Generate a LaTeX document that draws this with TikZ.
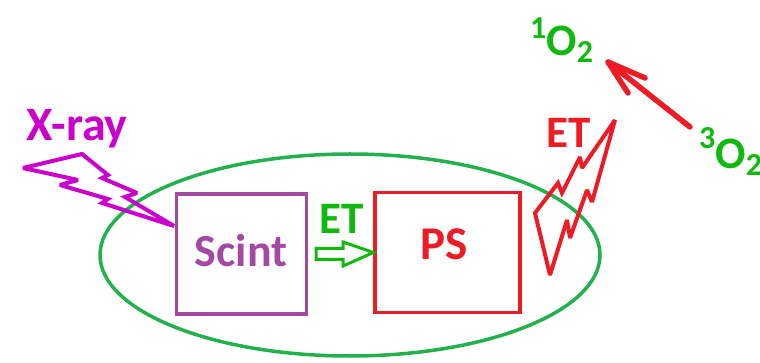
\documentclass[tikz,border=0pt]{standalone}
\usepackage{fontspec}
\setmainfont{Carlito}
\usetikzlibrary{arrows.meta}
\definecolor{xmag}{RGB}{204,0,204}
\definecolor{spurple}{RGB}{163,73,164}
\definecolor{pred}{RGB}{237,28,36}
\definecolor{egreen}{RGB}{34,177,76}
\definecolor{tgreen}{RGB}{16,185,16}
\tikzset{
  lbl/.style={font=\fontsize{45}{45}\selectfont\bfseries, inner sep=0pt, anchor=base},
  boxst/.style={draw, line width=3.2pt, inner sep=0pt},
  bolt/.style={line width=4pt, line join=miter, miter limit=2.5},
}
\newcommand{\smalldigit}[2]{\raisebox{#1}{\fontsize{32}{32}\selectfont #2}}
\begin{document}
\begin{tikzpicture}[x=1pt,y=-1pt]
\useasboundingbox (0,0) rectangle (760,363);
% ellipse
\draw[egreen, line width=3.5pt] (350,255) ellipse [x radius=250, y radius=101];
% boxes
\node[boxst, spurple, minimum width=130pt, minimum height=120pt] (scint) at (241.5,254) {};
\node[lbl, spurple, font=\fontsize{46}{46}\selectfont\bfseries] (scintt) at (241,267) {Scint};
\node[boxst, pred, minimum width=145pt, minimum height=120pt] (ps) at (447.5,252.5) {};
\node[lbl, pred, font=\fontsize{47}{47}\selectfont\bfseries] (pst) at (444,260) {PS};
% ET green + hollow arrow
\node[lbl, tgreen] (et1) at (342,234) {ET};
\coordinate (ga) at (scint.east);
\draw[tgreen, line width=3pt, line join=miter]
  ([xshift=8pt,yshift=-5.5pt]ga) -- ([xshift=35pt,yshift=-5.5pt]ga) -- ([xshift=35pt,yshift=-12pt]ga)
  -- (ps.west) -- ([xshift=35pt,yshift=12pt]ga) -- ([xshift=35pt,yshift=5.5pt]ga)
  -- ([xshift=8pt,yshift=5.5pt]ga) -- cycle;
% X-ray
\node[lbl, xmag, font=\fontsize{48}{48}\selectfont\bfseries] (xray) at (77,141) {X-ray};
\draw[xmag, bolt]
  (23,168) -- (82,154) -- (108,175) -- (102,178) -- (137,193) -- (125,197) -- (174,226)
  -- (102,203) -- (108,199) -- (60,185) -- (78,180) -- cycle;
% red ET lightning
\node[lbl, pred] (et2) at (569,148) {ET};
\draw[pred, bolt]
  (615,120) -- (592,202) -- (587,190) -- (570,238) -- (567,220) -- (550,275)
  -- (535,213) -- (558,183) -- (562,193) -- (580,157) -- (582,168) -- cycle;
% oxygen labels
\node[lbl, tgreen, anchor=base west] (o1) at (530,56) {\smalldigit{17pt}{1}O\smalldigit{-7pt}{2}};
\node[lbl, tgreen, anchor=base west] (o3) at (699,169) {\smalldigit{20pt}{3}O\smalldigit{-7pt}{2}};
\coordinate (a1) at (608,62);
\coordinate (a3) at (690,127);
\coordinate (b1) at (645,78);
\coordinate (b2) at (628,93);
\draw[pred, line width=5.5pt, line cap=round] (a3) -- (a1);
\draw[pred, line width=5.5pt, line cap=round, line join=round] (b1) -- (a1) -- (b2);
\end{tikzpicture}
\end{document}
